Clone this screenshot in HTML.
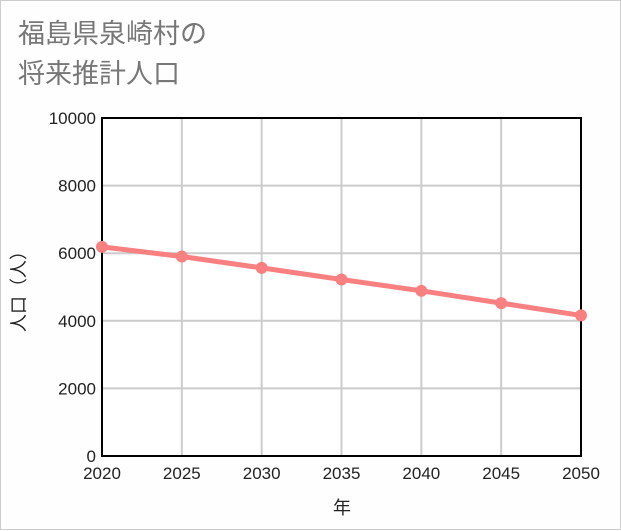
<!DOCTYPE html>
<html><head><meta charset="utf-8"><style>
html,body{margin:0;padding:0;background:#fff}
.wrap{position:relative;width:619px;height:528px;border:1px solid #ccc;background:#fdfefd}
.title{position:absolute;left:17px;top:13px;font:27px "Liberation Sans","Noto Sans CJK JP",sans-serif;color:#777;line-height:40px}
svg{position:absolute;left:0;top:0}
</style></head><body>
<div class="wrap">
<div class="title">福島県泉崎村の<br>将来推計人口</div>
<svg id="c" width="621" height="530"></svg>
</div>
<script>
const years=[2020,2025,2030,2035,2040,2045,2050];
const population=[6187,5903,5566,5222,4887,4523,4159];
const yTicks=[0,2000,4000,6000,8000,10000];
const L=101,R=580,T=117,B=455;
const NS='http://www.w3.org/2000/svg';
const svg=document.getElementById('c');
const xs=v=>L+(v-2020)/30*(R-L);
const ys=v=>B-v/10000*(B-T);
function mk(tag,attrs){const e=document.createElementNS(NS,tag);for(const k in attrs)e.setAttribute(k,attrs[k]);svg.appendChild(e);return e;}
const bg=mk('rect',{x:L,y:T,width:R-L,height:B-T,fill:'#fff'});


years.forEach(y=>{const g=mk('line',{x1:xs(y),x2:xs(y),y1:T,y2:B,stroke:'#ccc','stroke-width':2});


const t=mk('text',{x:xs(y),y:B+23,'text-anchor':'middle','font-size':17,'font-family':'Liberation Sans, sans-serif',fill:'#222'});t.textContent=y;

});
yTicks.forEach(v=>{const g=mk('line',{x1:L,x2:R,y1:ys(v),y2:ys(v),stroke:'#ccc','stroke-width':2});


const t=mk('text',{x:L-6,y:ys(v)+6,'text-anchor':'end','font-size':17,'font-family':'Liberation Sans, sans-serif',fill:'#222'});t.textContent=v;

});
const fr=mk('rect',{x:L,y:T,width:R-L,height:B-T,fill:'none',stroke:'#000','stroke-width':2});


const line=mk('polyline',{points:years.map((y,i)=>xs(y)+','+ys(population[i])).join(' '),fill:'none',stroke:'#f88080','stroke-width':5});


years.forEach((y,i)=>{const c=mk('circle',{cx:xs(y),cy:ys(population[i]),r:6,fill:'#f88080'});

});
const xt=mk('text',{x:341,y:513,'text-anchor':'middle','font-size':18,'font-family':'Liberation Sans, Noto Sans CJK JP, sans-serif',fill:'#222'});xt.textContent='年';


const yt=mk('text',{x:0,y:0,'text-anchor':'middle','font-size':18,'font-family':'Liberation Sans, Noto Sans CJK JP, sans-serif',fill:'#222',transform:'translate(24,286) rotate(-90)'});yt.textContent='人口（人）';


</script>
</body></html>
